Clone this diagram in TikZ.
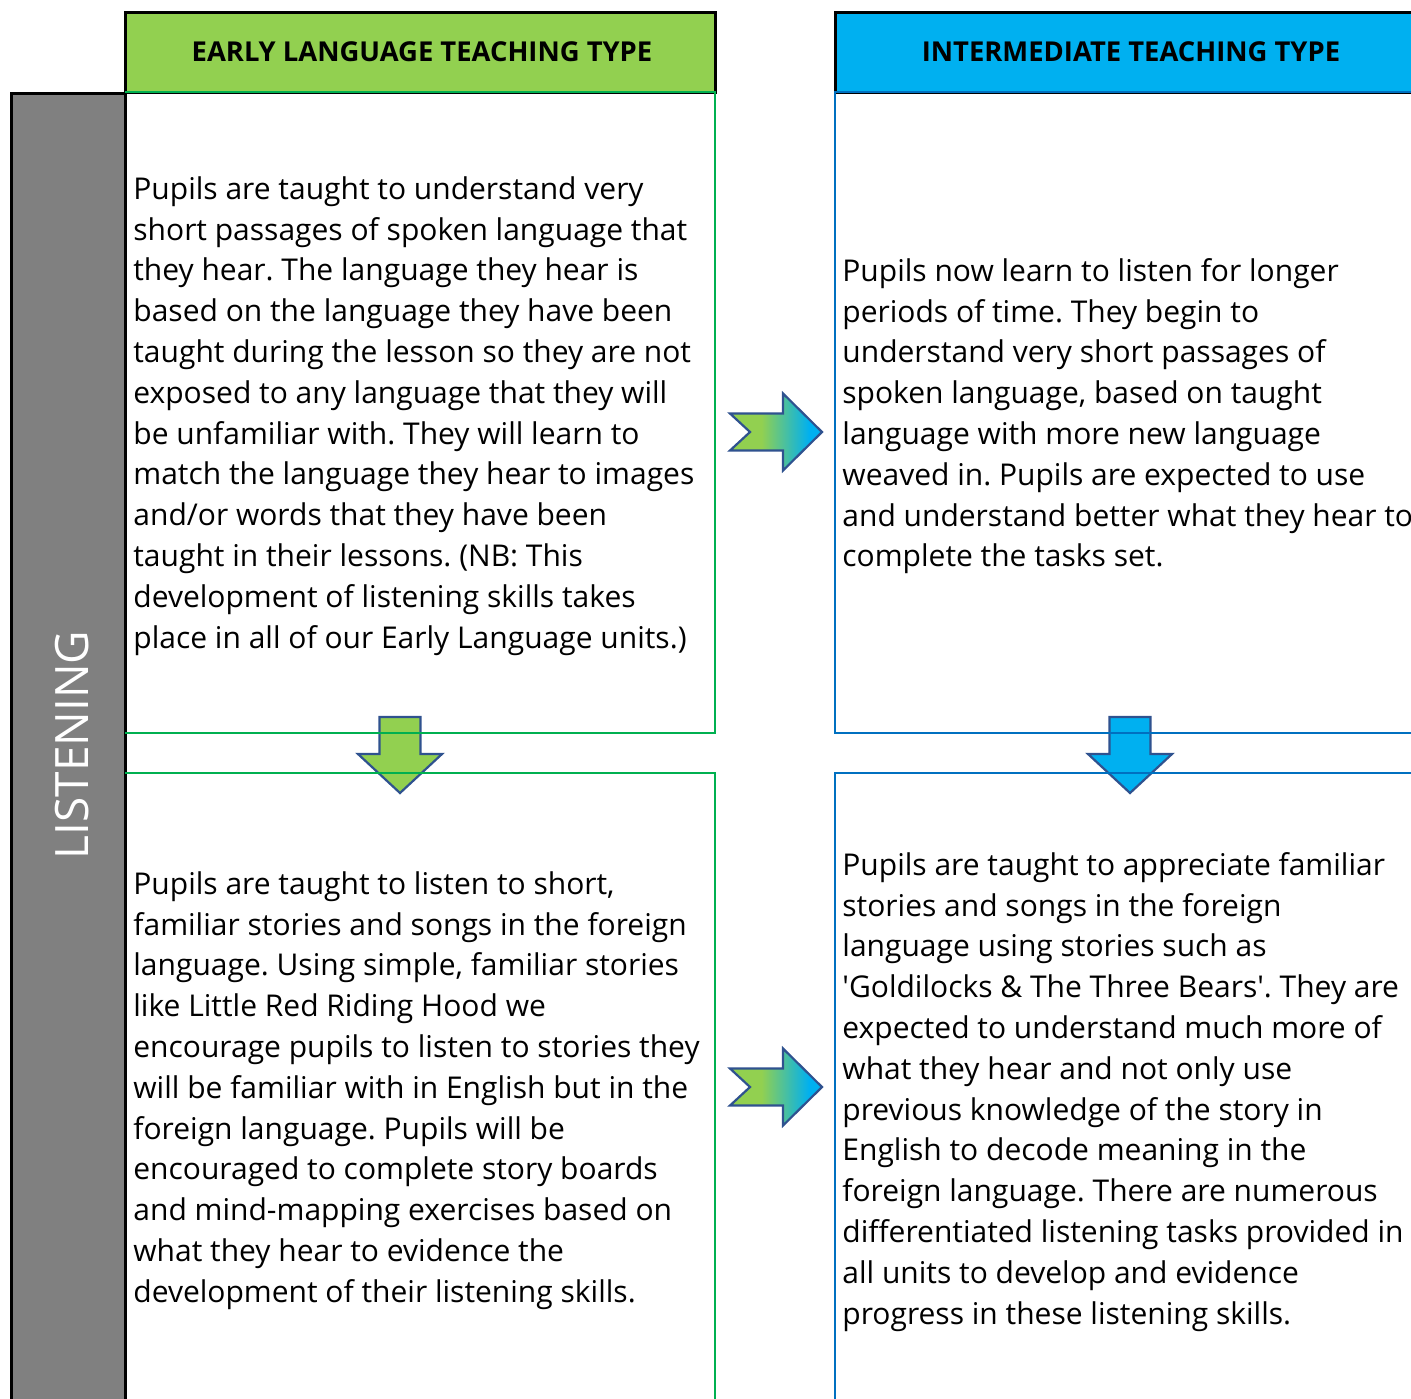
\documentclass[tikz,border=0pt]{standalone}
\usepackage{fontspec}
\setmainfont{Open Sans}
\frenchspacing
\definecolor{sidegray}{HTML}{808080}
\definecolor{earlygreen}{HTML}{92D050}
\definecolor{interblue}{HTML}{00B0F0}
\definecolor{greenline}{HTML}{00B050}
\definecolor{blueline}{HTML}{0070C0}
\definecolor{arrowline}{HTML}{2F528F}
\pgfdeclarehorizontalshading{greenblue}{100bp}{color(0bp)=(earlygreen); color(42bp)=(earlygreen); color(68bp)=(interblue); color(100bp)=(interblue)}
\begin{document}
\begin{tikzpicture}[x=0.5pt,y=-0.5pt]
    \tikzset {
        body text/.style = {anchor=north west, inner sep=0pt, align=left,
            font=\fontsize{15}{20.4}\selectfont, execute at begin node={\rule{0pt}{12pt}}},
        head text/.style = {inner sep=0pt, font=\bfseries\fontsize{13.7}{16}\selectfont},
        down arrow/.pic = {
            \draw[arrowline, line width=1.1pt, fill=#1, line join=miter]
                (-20.5,0) -- (20.5,0) -- (20.5,37) -- (42,37) -- (0,76) -- (-42,37) -- (-20.5,37) -- cycle;
        },
        notch arrow/.pic = {
            \path[draw=arrowline, line width=1.1pt, shading=greenblue, line join=miter]
                (0,-18.5) -- (53,-18.5) -- (53,-38.5) -- (92,0) -- (53,38.5) -- (53,18.5) -- (0,18.5) -- (20,0) -- cycle;
        }
    }
    \useasboundingbox (0,0) rectangle (1411,1398);
    \path (400,717) pic {down arrow=earlygreen};
    \path (1130,717) pic {down arrow=interblue};
    \path (730,432) pic {notch arrow};
    \path (730,1087) pic {notch arrow};
    \filldraw[fill=sidegray, draw=black, line width=1.5pt] (11.5,93) rectangle (125,1420);
    \filldraw[fill=earlygreen, draw=black, line width=1.5pt] (125,12) rectangle (715,92);
    \filldraw[fill=interblue, draw=black, line width=1.5pt] (835,12) rectangle (1440,92);
    \draw[greenline, line width=1.25pt] (125,92) -- (715,92) -- (715,733) -- (125,733);
    \draw[greenline, line width=1.25pt] (125,773) -- (715,773) -- (715,1420);
    \draw[blueline, line width=1.25pt] (1440,92) -- (835,92) -- (835,733) -- (1440,733);
    \draw[blueline, line width=1.25pt] (1440,773) -- (835,773) -- (835,1420);
    \node[head text] (earlyhead) at (422,52) {EARLY LANGUAGE TEACHING TYPE};
    \node[head text] (interhead) at (1131,52) {INTERMEDIATE TEACHING TYPE};
    \node[rotate=90, text=white, inner sep=0pt, font=\fontsize{23}{28}\selectfont] (skill) at (72,745) {LISTENING};
    \node[body text] (earlytop) at (133,176) {Pupils are taught to understand very\\
        short passages of spoken language that\\
        they hear. The language they hear is\\
        based on the language they have been\\
        taught during the lesson so they are not\\
        exposed to any language that they will\\
        be unfamiliar with. They will learn to\\
        match the language they hear to images\\
        and/or words that they have been\\
        taught in their lessons. (NB: This\\
        development of listening skills takes\\
        place in all of our Early Language units.)};
    \node[body text] (intertop) at (842,258) {Pupils now learn to listen for longer\\
        periods of time. They begin to\\
        understand very short passages of\\
        spoken language, based on taught\\
        language with more new language\\
        weaved in. Pupils are expected to use\\
        and understand better what they hear to\\
        complete the tasks set.};
    \node[body text] (earlybottom) at (133,871) {Pupils are taught to listen to short,\\
        familiar stories and songs in the foreign\\
        language. Using simple, familiar stories\\
        like Little Red Riding Hood we\\
        encourage pupils to listen to stories they\\
        will be familiar with in English but in the\\
        foreign language. Pupils will be\\
        encouraged to complete story boards\\
        and mind-mapping exercises based on\\
        what they hear to evidence the\\
        development of their listening skills.};
    \node[body text] (interbottom) at (842,852) {Pupils are taught to appreciate familiar\\
        stories and songs in the foreign\\
        language using stories such as\\
        \textquotesingle Goldilocks \& The Three Bears\textquotesingle. They are\\
        expected to understand much more of\\
        what they hear and not only use\\
        previous knowledge of the story in\\
        English to decode meaning in the\\
        foreign language. There are numerous\\
        differentiated listening tasks provided in\\
        all units to develop and evidence\\
        progress in these listening skills.};
\end{tikzpicture}
\end{document}
